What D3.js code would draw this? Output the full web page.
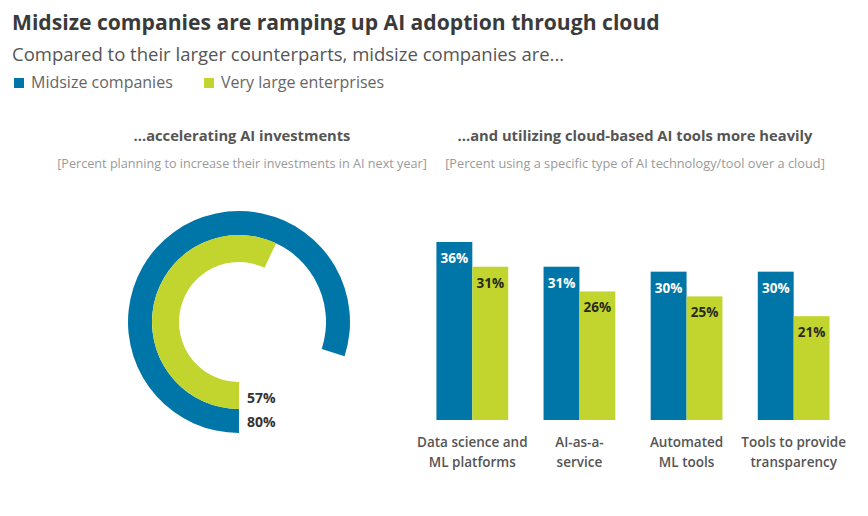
<!DOCTYPE html>
<html><head><meta charset="utf-8">
<script src="https://cdn.jsdelivr.net/npm/d3@7"></script>
<style>body{margin:0;background:#fff}svg{display:block}</style>
</head><body><svg id="c" width="868" height="516"></svg>
<script>
const seriesNames = ["Midsize companies", "Very large enterprises"];
const colors = ["#0076a8", "#c2d52f"];
const donutValues = [80, 57];
const categories = [["Data science and","ML platforms"],["AI-as-a-","service"],["Automated","ML tools"],["Tools to provide","transparency"]];
const midsizeValues = [36, 31, 30, 30];
const largeValues = [31, 26, 25, 21];

const svg = d3.select("#c");
const F = "'Open Sans', 'Noto Sans', sans-serif";

// size the font so the text spans the given width
function fitSize(sel, w){
  const l = sel.node().getComputedTextLength();
  sel.attr("font-size", (parseFloat(sel.attr("font-size")) * w / l).toFixed(2));
  return sel;
}

// Title
fitSize(svg.append("text").attr("x",12).attr("y",30).attr("font-family",F).attr("font-weight",700)
  .attr("font-size",24).attr("fill","#3a3a3a").text("Midsize companies are ramping up AI adoption through cloud"), 648);
svg.append("text").attr("x",12).attr("y",61).attr("font-family",F).attr("font-size",18.5).attr("fill","#555")
  .text("Compared to their larger counterparts, midsize companies are...");

// Legend
const legX = [14, 204];
seriesNames.forEach((n,i)=>{
  svg.append("rect").attr("x",legX[i]).attr("y",78).attr("width",10).attr("height",10).attr("fill",colors[i]);
  svg.append("text").attr("x",legX[i]+17).attr("y",88).attr("font-family",F).attr("font-size",16).attr("fill","#666").text(n);
});

// Section headings
function heading(cx, t1, w1, t2, w2){
  fitSize(svg.append("text").attr("x",cx).attr("y",141).attr("text-anchor","middle").attr("font-family",F)
    .attr("font-weight",700).attr("font-size",16).attr("fill","#555").text(t1), w1);
  fitSize(svg.append("text").attr("x",cx).attr("y",168).attr("text-anchor","middle").attr("font-family",F)
    .attr("font-size",14).attr("fill","#9a9a9a").text(t2), w2);
}
heading(242, "...accelerating AI investments", 217, "[Percent planning to increase their investments in AI next year]", 370);
heading(635, "...and utilizing cloud-based AI tools more heavily", 355, "[Percent using a specific type of AI technology/tool over a cloud]", 380);

// Donut
const cx = 239, cy = 322;
const radii = [[87,111],[60,87]];
const ang = d3.scaleLinear().domain([0,100]).range([Math.PI, 3*Math.PI]);
const g = svg.append("g").attr("transform",`translate(${cx},${cy})`);
donutValues.forEach((v,i)=>{
  g.append("path").attr("fill",colors[i])
   .attr("d", d3.arc().innerRadius(radii[i][0]).outerRadius(radii[i][1]).startAngle(ang(0)).endAngle(ang(v))());
});
[1,0].forEach((i,k)=>{
  svg.append("text").attr("x",cx+8).attr("y",cy+81+k*24).attr("font-family",F).attr("font-weight",700)
    .attr("font-size",14).attr("fill","#333").text(donutValues[i]+"%");
});

// Bars
const x0 = d3.scaleBand().domain(d3.range(categories.length)).range([415,851]).paddingInner(0.33).paddingOuter(0.2);
const y = d3.scaleLinear().domain([0,36]).range([420,242]);
const x1 = d3.scaleBand().domain([0,1]).range([0,x0.bandwidth()]);
categories.forEach((c,i)=>{
  const vals = [midsizeValues[i], largeValues[i]];
  vals.forEach((v,j)=>{
    const bx = x0(i)+x1(j);
    svg.append("rect").attr("x",bx).attr("y",y(v)).attr("width",x1.bandwidth()).attr("height",y(0)-y(v)).attr("fill",colors[j]);
    svg.append("text").attr("x",bx+x1.bandwidth()/2).attr("y",y(v)+21).attr("text-anchor","middle")
      .attr("font-family",F).attr("font-weight",700).attr("font-size",13.5)
      .attr("fill", j===0 ? "#fff" : "#2a2a1a").text(v+"%");
  });
  c.forEach((line,k)=>{
    svg.append("text").attr("x",x0(i)+x0.bandwidth()/2).attr("y",447+k*20).attr("text-anchor","middle")
      .attr("font-family",F).attr("font-weight",600).attr("font-size",13.5).attr("fill","#555").text(line);
  });
});
</script></body></html>
